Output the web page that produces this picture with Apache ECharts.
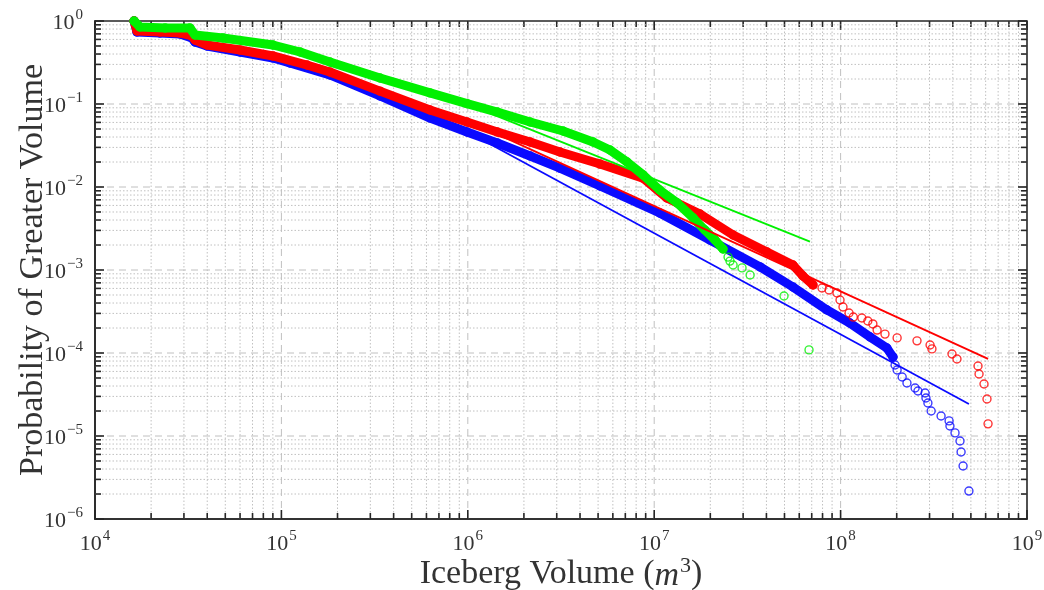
<!DOCTYPE html>
<html>
<head>
<meta charset="utf-8">
<script src="https://cdn.jsdelivr.net/npm/echarts@6/dist/echarts.min.js"></script>
<style>
  html, body { margin: 0; padding: 0; background: #ffffff; }
  #chart { width: 1044px; height: 590px; }
</style>
</head>
<body>
<div id="chart"></div>
<script>
// Exceedance probability of iceberg volume for three iceberg populations,
// each with its power-law fit (log-log axes).

const xDecades = [4, 5, 6, 7, 8, 9];
const yDecades = [-6, -5, -4, -3, -2, -1, 0];
const minorSteps = [2, 3, 4, 5, 6, 7, 8, 9];

// Blue population: densely sampled run, then the sparse upper tail
const blueBandVol = [1.62e4, 1.68e4, 2.23e4, 2.86e4, 3.31e4, 3.44e4, 3.99e4, 6.0e4, 9.01e4, 1.11e5, 1.82e5, 3.38e5, 6.27e5, 9.9e5, 1.44e6, 2.16e6, 3.12e6, 5.12e6, 1.07e7, 1.99e7, 3.7e7, 5.55e7, 8.45e7, 1.12e8, 1.44e8, 1.77e8, 1.91e8];
const blueBandProb = [1.0, 0.737, 0.717, 0.697, 0.624, 0.558, 0.5, 0.423, 0.358, 0.312, 0.224, 0.125, 0.0678, 0.046, 0.0339, 0.0236, 0.0169, 0.0103, 0.00486, 0.0023, 0.00109, 0.000624, 0.00033, 0.00023, 0.000156, 0.000115, 8.95e-5];
const blueTailVol = [1.96e8, 2.01e8, 2.14e8, 2.27e8, 2.51e8, 2.60e8, 2.84e8, 2.87e8, 2.94e8, 3.06e8, 3.46e8, 3.82e8, 3.86e8, 4.11e8, 4.37e8, 4.43e8, 4.54e8, 4.88e8];
const blueTailProb = [7.17e-5, 6.24e-5, 5.14e-5, 4.35e-5, 3.79e-5, 3.48e-5, 3.3e-5, 2.87e-5, 2.5e-5, 2.0e-5, 1.74e-5, 1.52e-5, 1.32e-5, 1.09e-5, 8.7e-6, 6.42e-6, 4.35e-6, 2.17e-6];
const blueFitVol = [1.0e6, 4.88e8];
const blueFitProb = [0.046, 2.43e-5];

// Red population
const redBandVol = [1.62e4, 1.68e4, 2.23e4, 2.86e4, 3.31e4, 3.44e4, 3.99e4, 6.0e4, 9.01e4, 1.37e5, 1.82e5, 3.38e5, 6.27e5, 9.9e5, 1.44e6, 2.16e6, 3.12e6, 5.12e6, 8.71e6, 1.17e7, 1.76e7, 2.65e7, 4.03e7, 5.55e7, 6.28e7, 7.11e7];
const redBandProb = [1.0, 0.758, 0.737, 0.717, 0.66, 0.59, 0.514, 0.447, 0.379, 0.295, 0.243, 0.143, 0.0847, 0.0607, 0.046, 0.0348, 0.0264, 0.0189, 0.0128, 0.00737, 0.00473, 0.00264, 0.00165, 0.00115, 0.000847, 0.00066];
const redTailVol = [7.95e7, 8.67e7, 9.56e7, 9.93e7, 1.03e8, 1.11e8, 1.17e8, 1.30e8, 1.40e8, 1.49e8, 1.57e8, 1.73e8, 2.01e8, 2.57e8, 3.02e8, 3.09e8, 3.96e8, 4.21e8, 5.46e8, 5.53e8, 5.88e8, 6.1e8, 6.18e8];
const redTailProb = [6.07e-4, 5.74e-4, 5.28e-4, 4.35e-4, 3.58e-4, 3.03e-4, 2.71e-4, 2.64e-4, 2.43e-4, 2.24e-4, 1.89e-4, 1.69e-4, 1.52e-4, 1.40e-4, 1.25e-4, 1.12e-4, 9.72e-5, 8.47e-5, 6.97e-5, 5.58e-5, 4.23e-5, 2.79e-5, 1.40e-5];
const redFitVol = [1.0e6, 6.18e8];
const redFitProb = [0.063, 8.5e-5];

// Green population
const greenBandVol = [1.62e4, 1.74e4, 2.38e4, 3.23e4, 3.44e4, 4.86e4, 9.01e4, 1.26e5, 1.82e5, 3.38e5, 6.27e5, 9.9e5, 1.44e6, 2.16e6, 3.24e6, 4.7e6, 5.79e6, 7.15e6, 8.71e6, 1.07e7, 1.33e7, 1.62e7, 1.87e7, 2.12e7, 2.34e7];
const greenBandProb = [1.0, 0.847, 0.823, 0.823, 0.678, 0.624, 0.514, 0.423, 0.321, 0.206, 0.136, 0.101, 0.080, 0.0607, 0.0473, 0.0348, 0.0279, 0.020, 0.0140, 0.0092, 0.00642, 0.00423, 0.00303, 0.0023, 0.00179];
const greenTailVol = [2.49e7, 2.55e7, 2.65e7, 2.96e7, 3.27e7, 4.97e7, 6.77e7];
const greenTailProb = [1.43e-3, 1.28e-3, 1.15e-3, 1.06e-3, 8.7e-4, 4.86e-4, 1.09e-4];
const greenFitVol = [1.0e6, 6.85e7];
const greenFitProb = [0.099, 2.2e-3];

const BLUE = '#0a0aff';
const RED = '#ff0000';
const GREEN = '#00f000';
const INK = '#262626';
const GRIDC = '#c0c0c0';
const FONT = "'Liberation Serif', 'DejaVu Serif', serif";

const zip = (xs, ys) => xs.map((x, i) => [x, ys[i]]);

const majorX = xDecades.map(d => Math.pow(10, d));
const majorY = yDecades.map(d => Math.pow(10, d));
const minorX = [];
xDecades.slice(0, -1).forEach(d => minorSteps.forEach(k => minorX.push(k * Math.pow(10, d))));
const minorY = [];
yDecades.slice(0, -1).forEach(d => minorSteps.forEach(k => minorY.push(k * Math.pow(10, d))));

function powLabel(v) {
  const e = Math.round(Math.log10(v));
  return '{b|10}{s|' + String(e).replace('-', '\u2212') + '}';
}
const labelRich = {
  b: { fontFamily: FONT, fontSize: 22, color: '#333', verticalAlign: 'bottom' },
  s: { fontFamily: FONT, fontSize: 15, color: '#333', verticalAlign: 'bottom', padding: [0, 0, 11, 1] }
};

// Vertical grid lines plus inward ticks on the bottom and top edges
function vRender(major) {
  return function (params, api) {
    const cs = params.coordSys;
    const x = api.coord([api.value(0), 1])[0];
    const top = cs.y, bot = cs.y + cs.height;
    const tl = major ? 9 : 6;
    const kids = [];
    if (x > cs.x + 1 && x < cs.x + cs.width - 1) {
      kids.push({ type: 'line', shape: { x1: x, y1: top, x2: x, y2: bot },
        style: { stroke: GRIDC, lineWidth: 1, lineDash: major ? [7, 5] : [1.5, 2] } });
    }
    kids.push({ type: 'line', shape: { x1: x, y1: bot, x2: x, y2: bot - tl }, style: { stroke: INK, lineWidth: 1.6 } });
    kids.push({ type: 'line', shape: { x1: x, y1: top, x2: x, y2: top + tl }, style: { stroke: INK, lineWidth: 1.6 } });
    return { type: 'group', children: kids };
  };
}
// Horizontal grid lines plus inward ticks on the left and right edges
function hRender(major) {
  return function (params, api) {
    const cs = params.coordSys;
    const y = api.coord([1e4, api.value(1)])[1];
    const left = cs.x, right = cs.x + cs.width;
    const tl = major ? 9 : 6;
    const kids = [];
    if (y > cs.y + 1 && y < cs.y + cs.height - 1) {
      kids.push({ type: 'line', shape: { x1: left, y1: y, x2: right, y2: y },
        style: { stroke: GRIDC, lineWidth: 1, lineDash: major ? [7, 5] : [1.5, 2] } });
    }
    kids.push({ type: 'line', shape: { x1: left, y1: y, x2: left + tl, y2: y }, style: { stroke: INK, lineWidth: 1.6 } });
    kids.push({ type: 'line', shape: { x1: right, y1: y, x2: right - tl, y2: y }, style: { stroke: INK, lineWidth: 1.6 } });
    return { type: 'group', children: kids };
  };
}

function gridSeries(render, data) {
  return { type: 'custom', renderItem: render, data: data, silent: true, z: 1, clip: false, animation: false };
}

function bandSeries(vol, prob, color, z) {
  return {
    type: 'line', data: zip(vol, prob), showSymbol: true, symbol: 'circle', symbolSize: 8,
    itemStyle: { color: 'rgba(255,255,255,0)', borderColor: color, borderWidth: 1.4 },
    lineStyle: { color: color, width: 9, cap: 'round', join: 'round' },
    z: z, silent: true, animation: false
  };
}
function tailSeries(vol, prob, color, z) {
  return {
    type: 'scatter', data: zip(vol, prob), symbol: 'circle', symbolSize: 8,
    itemStyle: { color: 'rgba(255,255,255,0)', borderColor: color, borderWidth: 1.4 },
    z: z, silent: true, animation: false
  };
}
function fitSeries(vol, prob, color) {
  return {
    type: 'line', data: zip(vol, prob), showSymbol: false,
    lineStyle: { color: color, width: 1.8 }, z: 6, silent: true, animation: false
  };
}

const chart = echarts.init(document.getElementById('chart'), null, { renderer: 'canvas' });
chart.setOption({
  backgroundColor: '#ffffff',
  animation: false,
  grid: {
    left: 95, right: 17, top: 21, bottom: 71, outerBoundsMode: 'none', containLabel: false,
    show: true, borderColor: INK, borderWidth: 1.6, backgroundColor: 'transparent'
  },
  xAxis: {
    type: 'log', logBase: 10, min: 1e4, max: 1e9, splitNumber: 5,
    axisLine: { show: true, onZero: false, lineStyle: { color: INK, width: 1.6 } },
    axisTick: { show: false }, splitLine: { show: false }, minorTick: { show: false },
    axisLabel: { formatter: powLabel, rich: labelRich, margin: 10 },
    name: 'Iceberg Volume ({it|m}{sup|3})', nameLocation: 'middle', nameGap: 36, nameMoveOverlap: false,
    nameTextStyle: {
      fontFamily: FONT, fontSize: 34, color: '#333',
      rich: {
        it: { fontFamily: FONT, fontSize: 34, fontStyle: 'italic', color: '#333', verticalAlign: 'bottom' },
        sup: { fontFamily: FONT, fontSize: 22, color: '#333', verticalAlign: 'bottom', padding: [0, 0, 16, 1] }
      }
    }
  },
  yAxis: {
    type: 'log', logBase: 10, min: 1e-6, max: 1, splitNumber: 6,
    axisLine: { show: true, onZero: false, lineStyle: { color: INK, width: 1.6 } },
    axisTick: { show: false }, splitLine: { show: false }, minorTick: { show: false },
    axisLabel: { formatter: powLabel, rich: labelRich, margin: 12 },
    name: 'Probability of Greater Volume', nameLocation: 'middle', nameGap: 45, nameMoveOverlap: false,
    nameTextStyle: { fontFamily: FONT, fontSize: 34, color: '#333' }
  },
  series: [
    gridSeries(vRender(false), minorX.map(v => [v, 1])),
    gridSeries(vRender(true), majorX.map(v => [v, 1])),
    gridSeries(hRender(false), minorY.map(v => [1e4, v])),
    gridSeries(hRender(true), majorY.map(v => [1e4, v])),
    bandSeries(blueBandVol, blueBandProb, BLUE, 3),
    tailSeries(blueTailVol, blueTailProb, BLUE, 3),
    bandSeries(redBandVol, redBandProb, RED, 4),
    tailSeries(redTailVol, redTailProb, RED, 4),
    bandSeries(greenBandVol, greenBandProb, GREEN, 5),
    tailSeries(greenTailVol, greenTailProb, GREEN, 5),
    fitSeries(blueFitVol, blueFitProb, BLUE),
    fitSeries(redFitVol, redFitProb, RED),
    fitSeries(greenFitVol, greenFitProb, GREEN)
  ]
});
</script>
</body>
</html>
